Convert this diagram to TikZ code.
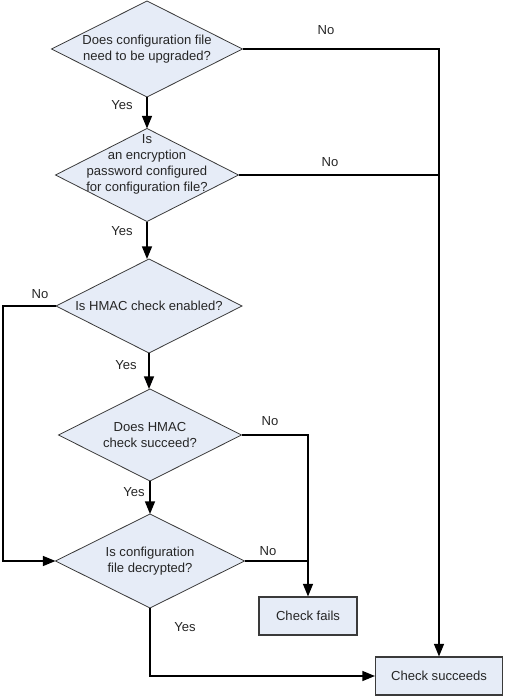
\documentclass[tikz,border=0pt]{standalone}
\usepackage{fontspec}
\setmainfont{Liberation Sans}
\usetikzlibrary{shapes.geometric,arrows.meta}
\definecolor{boxfill}{HTML}{E6ECF7}
\definecolor{edge}{HTML}{3A3A3A}
\definecolor{ink}{HTML}{262626}
\begin{document}
\begin{tikzpicture}[x=0.75pt,y=-0.75pt,
  every node/.style={font=\fontsize{9.8pt}{12pt}\selectfont,text=ink},
  decision/.style={diamond,draw=edge,line width=0.6pt,fill=boxfill,inner sep=0pt,outer sep=0pt},
  dtext/.style={align=center,inner sep=0pt},
  result/.style={rectangle,draw=edge,line width=0.8pt,fill=boxfill,inner sep=0pt,align=center},
  conn/.style={line width=1.1pt,black},
  arr/.style={conn,-{Triangle[length=9.5pt,width=7.5pt]}},
  lbl/.style={inner sep=0pt}]
\useasboundingbox (0,0) rectangle (504,696);
\node[decision,minimum width=191*0.75pt,minimum height=96*0.75pt] (d1) at (147,49) {};
\node[dtext] (t1) at (d1.center) {Does configuration file\\need to be upgraded?};
\node[decision,minimum width=183*0.75pt,minimum height=93*0.75pt] (d2) at (147,175) {};
\node[dtext] (t2) at (147,164) {Is\\an encryption\\password configured\\for configuration file?};
\node[decision,minimum width=186*0.75pt,minimum height=94*0.75pt] (d3) at (149,306) {};
\node[dtext] (t3) at (d3.center) {Is HMAC check enabled?};
\node[decision,minimum width=183*0.75pt,minimum height=92*0.75pt] (d4) at (150,435) {};
\node[dtext] (t4) at (d4.center) {Does HMAC\\check succeed?};
\node[decision,minimum width=189*0.75pt,minimum height=94*0.75pt] (d5) at (150,561) {};
\node[dtext] (t5) at (d5.center) {Is configuration\\file decrypted?};
\node[result,minimum width=98*0.75pt,minimum height=38*0.75pt] (fails) at (308,616) {Check fails};
\node[result,minimum width=127*0.75pt,minimum height=38*0.75pt] (succ) at (439,676) {Check succeeds};
\coordinate (lft) at (3,306);

\draw[arr] (d1.south) -- (d2.north);
\draw[arr] (d2.south) -- (d2.south |- d3.north);
\draw[arr] (d3.south) -- (d3.south |- d4.north);
\draw[arr] (d4.south) -- (d4.south |- d5.north);
\draw[arr] (d1.east) -| (succ.north);
\draw[conn] (d2.east) -- (d2.east -| succ.north);
\draw[arr] (d3.west) -- (lft) |- (d5.west);
\draw[arr] (d4.east) -| (fails.north);
\draw[conn] (d5.east) -- (d5.east -| fails.north);
\draw[arr] (d5.south) |- (succ.west);

\node[lbl] (y1) at (122,105) {Yes};
\node[lbl] (y2) at (122,231) {Yes};
\node[lbl] (y3) at (126,365) {Yes};
\node[lbl] (y4) at (134,492) {Yes};
\node[lbl] (y5) at (185,627) {Yes};
\node[lbl] (n1) at (326,30) {No};
\node[lbl] (n2) at (330,162) {No};
\node[lbl] (n3) at (40,294) {No};
\node[lbl] (n4) at (270,421) {No};
\node[lbl] (n5) at (268,551) {No};
\end{tikzpicture}
\end{document}
